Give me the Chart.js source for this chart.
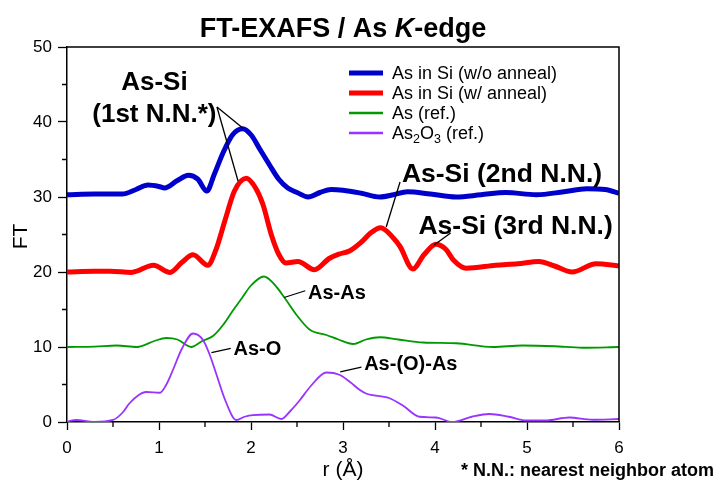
<!DOCTYPE html>
<html lang="en">
<head>
    <meta charset="UTF-8">
    <title>FT-EXAFS / As K-edge</title>
    <script src="https://cdn.jsdelivr.net/npm/chart.js"></script>
    <style>
        body { margin: 0; background: #fff; }
        #wrap { width: 727px; height: 482px; position: relative; }
    </style>
</head>
<body>
<div id="wrap"><canvas id="chart"></canvas></div>
<script>
// r (Å) and FT values, one pair of arrays per curve
const rNoAnneal = [0, 0.3, 0.6, 0.75, 0.88, 1.0, 1.06, 1.2, 1.32, 1.42, 1.52, 1.6, 1.7, 1.8, 1.91, 2.0, 2.1, 2.2, 2.3, 2.4, 2.5, 2.62, 2.75, 2.87, 3.0, 3.2, 3.4, 3.55, 3.7, 3.95, 4.23, 4.5, 4.77, 5.1, 5.4, 5.65, 5.85, 6.0];
const ftNoAnneal = [30.3, 30.4, 30.4, 31.0, 31.6, 31.4, 31.2, 32.2, 32.9, 32.4, 30.8, 33.0, 36.0, 38.3, 39.1, 38.3, 36.3, 34.3, 32.4, 31.2, 30.6, 30.0, 30.6, 31.0, 30.9, 30.5, 30.0, 30.3, 30.7, 30.4, 30.0, 30.3, 30.6, 30.3, 30.7, 31.1, 31.0, 30.5];

const rAnneal = [0, 0.3, 0.47, 0.7, 0.94, 1.12, 1.25, 1.37, 1.53, 1.62, 1.72, 1.82, 1.95, 2.05, 2.13, 2.22, 2.3, 2.38, 2.51, 2.69, 2.85, 2.96, 3.07, 3.2, 3.3, 3.41, 3.55, 3.62, 3.76, 3.88, 4.01, 4.12, 4.2, 4.34, 4.66, 4.9, 5.13, 5.3, 5.49, 5.75, 6.0];
const ftAnneal = [20.0, 20.1, 20.1, 19.95, 20.9, 19.95, 21.3, 22.3, 20.9, 23.0, 27.0, 30.8, 32.5, 31.2, 29.0, 25.0, 22.4, 21.2, 21.4, 20.3, 21.8, 22.4, 22.8, 24.0, 25.2, 25.9, 24.5, 23.4, 20.4, 22.3, 23.7, 23.0, 21.6, 20.5, 20.9, 21.1, 21.4, 20.8, 20.0, 21.1, 20.8];

const rAsRef = [0, 0.3, 0.54, 0.76, 0.95, 1.08, 1.2, 1.35, 1.47, 1.59, 1.7, 1.8, 1.9, 2.0, 2.14, 2.25, 2.38, 2.5, 2.64, 2.82, 2.95, 3.11, 3.25, 3.4, 3.6, 3.87, 4.23, 4.63, 4.95, 5.3, 5.6, 6.0];
const ftAsRef = [10.0, 10.05, 10.2, 10.0, 10.8, 11.2, 11.0, 10.0, 10.8, 11.5, 13.0, 14.8, 16.5, 18.2, 19.4, 18.4, 16.3, 14.2, 12.3, 11.6, 11.0, 10.4, 11.0, 11.3, 11.0, 10.6, 10.5, 10.0, 10.2, 10.1, 9.9, 10.0];

const rAs2O3 = [0, 0.1, 0.29, 0.5, 0.6, 0.68, 0.78, 0.86, 1.01, 1.08, 1.15, 1.25, 1.37, 1.48, 1.55, 1.62, 1.72, 1.84, 1.93, 2.02, 2.2, 2.33, 2.43, 2.53, 2.65, 2.82, 2.96, 3.08, 3.18, 3.25, 3.5, 3.65, 3.83, 4.01, 4.19, 4.4, 4.59, 4.8, 4.99, 5.2, 5.46, 5.71, 6.0];
const ftAs2O3 = [0.05, 0.27, 0.0, 0.27, 1.2, 2.5, 3.6, 4.0, 3.9, 5.0, 6.9, 9.8, 11.8, 10.9, 9.0, 6.5, 2.9, 0.27, 0.7, 0.93, 1.0, 0.4, 1.5, 2.9, 4.8, 6.6, 6.3, 5.3, 4.3, 3.8, 3.2, 2.2, 0.7, 0.6, 0.0, 0.7, 1.07, 0.7, 0.2, 0.2, 0.6, 0.3, 0.4];

const seriesNames = ['As in Si (w/o anneal)', 'As in Si (w/ anneal)', 'As (ref.)', 'As2O3 (ref.)'];
const seriesColors = ['#0000cc', '#ff0000', '#009900', '#9933ff'];
const seriesWidths = [5, 5, 1.8, 1.8];

const FONT = "'Liberation Sans', Arial, sans-serif";

const pairs = (xs, ys) => xs.map((x, i) => ({ x: x, y: ys[i] }));
const allSeries = [
    pairs(rNoAnneal, ftNoAnneal),
    pairs(rAnneal, ftAnneal),
    pairs(rAsRef, ftAsRef),
    pairs(rAs2O3, ftAs2O3)
];

// peak labels, anchored in data units (r, FT); leaders go from a point on the curve to the text
const notes = [
    { lines: ['As-Si', '(1st N.N.*)'], at: [0.95, 44.3], size: 26, center: true,
      leaders: [[1.63, 42.0, 1.91, 39.2], [1.63, 42.0, 1.86, 32.1]] },
    { lines: ['As-Si (2nd N.N.)'], at: [3.64, 32.0], size: 26.5, leaders: [[3.62, 32.0, 3.47, 26.0]] },
    { lines: ['As-Si (3rd N.N.)'], at: [3.82, 25.1], size: 26.5, leaders: [[4.17, 25.2, 3.99, 23.6]] },
    { lines: ['As-As'], at: [2.62, 16.4], size: 20, leaders: [[2.36, 16.6, 2.59, 17.5]] },
    { lines: ['As-O'], at: [1.81, 8.9], size: 20, leaders: [[1.57, 9.24, 1.78, 9.83]] },
    { lines: ['As-(O)-As'], at: [3.23, 7.0], size: 20, leaders: [[2.97, 6.67, 3.2, 7.33]] }
];

const decor = {
    id: 'decor',
    afterDraw(chart) {
        const { ctx, chartArea: a, scales: { x, y } } = chart;
        ctx.save();
        ctx.strokeStyle = '#000';
        ctx.fillStyle = '#000';

        // top and right frame
        ctx.lineWidth = 1.5;
        ctx.beginPath();
        ctx.moveTo(a.left, a.top); ctx.lineTo(a.right, a.top); ctx.lineTo(a.right, a.bottom);
        ctx.stroke();

        // minor ticks
        ctx.lineWidth = 1.3;
        ctx.beginPath();
        for (let v = 0.5; v < 6; v += 1) {
            const px = x.getPixelForValue(v);
            ctx.moveTo(px, a.bottom); ctx.lineTo(px, a.bottom + 5);
        }
        for (let v = 5; v < 50; v += 10) {
            const py = y.getPixelForValue(v);
            ctx.moveTo(a.left, py); ctx.lineTo(a.left - 5, py);
        }
        ctx.stroke();

        // title with italic K
        const parts = [['FT-EXAFS / As ', 'bold'], ['K', 'italic bold'], ['-edge', 'bold']];
        let w = 0;
        parts.forEach(p => { ctx.font = p[1] + ' 27px ' + FONT; w += ctx.measureText(p[0]).width; });
        let tx = (a.left + a.right) / 2 - w / 2;
        ctx.textBaseline = 'alphabetic';
        ctx.textAlign = 'left';
        parts.forEach(p => {
            ctx.font = p[1] + ' 27px ' + FONT;
            ctx.fillText(p[0], tx, 37);
            tx += ctx.measureText(p[0]).width;
        });

        // axis titles
        ctx.font = '21px ' + FONT;
        ctx.textAlign = 'center';
        ctx.fillText('r (\u00c5)', (a.left + a.right) / 2, 476);
        ctx.save();
        ctx.translate(27, (a.top + a.bottom) / 2 + 2);
        ctx.rotate(-Math.PI / 2);
        ctx.fillText('FT', 0, 0);
        ctx.restore();

        // footnote
        ctx.font = 'bold 18px ' + FONT;
        ctx.textAlign = 'left';
        ctx.fillText('* N.N.: nearest neighbor atom', 461, 476, 262);

        // legend
        const lx = 349, rowY = [73, 93, 113, 133];
        seriesNames.forEach((name, i) => {
            ctx.strokeStyle = seriesColors[i];
            ctx.lineWidth = i < 2 ? 5 : 2.5;
            ctx.beginPath();
            ctx.moveTo(lx, rowY[i]); ctx.lineTo(lx + 34, rowY[i]);
            ctx.stroke();
            let cx = lx + 43;
            const base = rowY[i] + 6;
            // "2" and "3" in As2O3 go down as subscripts
            name.split(/(\d)/).forEach(seg => {
                if (!seg) return;
                const sub = /\d/.test(seg);
                ctx.font = (sub ? 12.5 : 18) + 'px ' + FONT;
                ctx.fillText(seg, cx, base + (sub ? 4 : 0));
                cx += ctx.measureText(seg).width;
            });
        });

        // peak labels
        ctx.strokeStyle = '#000';
        ctx.lineWidth = 1.3;
        notes.forEach(n => {
            n.leaders.forEach(l => {
                ctx.beginPath();
                ctx.moveTo(x.getPixelForValue(l[0]), y.getPixelForValue(l[1]));
                ctx.lineTo(x.getPixelForValue(l[2]), y.getPixelForValue(l[3]));
                ctx.stroke();
            });
            ctx.font = 'bold ' + n.size + 'px ' + FONT;
            ctx.textAlign = n.center ? 'center' : 'left';
            const px = x.getPixelForValue(n.at[0]);
            let py = y.getPixelForValue(n.at[1]);
            n.lines.forEach(t => { ctx.fillText(t, px, py); py += 32; });
        });
        ctx.restore();
    }
};

new Chart(document.getElementById('chart'), {
    type: 'line',
    data: {
        datasets: allSeries.map((pts, i) => ({
            label: seriesNames[i],
            data: pts,
            borderColor: seriesColors[i],
            borderWidth: seriesWidths[i],
            pointRadius: 0,
            cubicInterpolationMode: 'monotone',
            fill: false,
            order: i === 3 ? -1 : i
        }))
    },
    options: {
        responsive: true,
        maintainAspectRatio: false,
        animation: false,
        layout: { padding: { top: 47, right: 108, left: 0, bottom: 0 } },
        plugins: { legend: { display: false }, title: { display: false }, tooltip: { enabled: false } },
        scales: {
            x: {
                type: 'linear', min: 0, max: 6,
                afterFit: s => { s.height = 60; },
                ticks: { stepSize: 1, color: '#000', padding: 8, maxRotation: 0, font: { family: FONT, size: 17 } },
                grid: { drawOnChartArea: false, color: '#000', tickLength: 8, tickWidth: 1.3 },
                border: { color: '#000', width: 1.5 }
            },
            y: {
                min: 0, max: 50,
                afterFit: s => { s.width = 67; },
                ticks: { stepSize: 10, color: '#000', padding: 6, font: { family: FONT, size: 17 } },
                grid: { drawOnChartArea: false, color: '#000', tickLength: 9, tickWidth: 1.3 },
                border: { color: '#000', width: 1.5 }
            }
        }
    },
    plugins: [decor]
});
</script>
</body>
</html>
